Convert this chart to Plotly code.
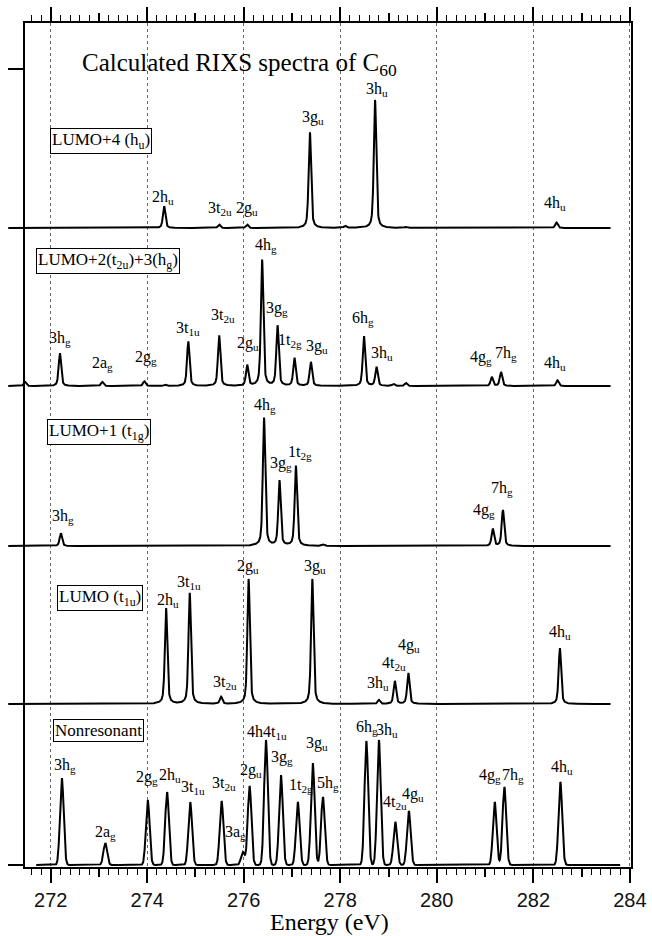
import numpy as np
import plotly.graph_objects as go

# ---------------- data (peak energies in eV, intensities in arbitrary units) ----------------
lumo4_E = [274.35, 275.49, 276.07, 277.37, 278.10, 278.72, 279.36, 282.48]
lumo4_I = [22, 3.5, 3.5, 96, 2, 128, 1, 5.5]

lumo23_E = [271.47, 272.19, 273.07, 273.94, 274.37, 274.85, 275.49, 276.07, 276.38, 276.70,
            277.05, 277.39, 278.49, 278.75, 279.10, 279.36, 281.14, 281.33, 282.50]
lumo23_I = [4, 33, 4, 4.7, 1.5, 44.7, 50.7, 20.7, 126, 60,
            28, 24, 50, 19, 2, 3, 9, 14, 5.7]

lumo1_E = [272.21, 275.60, 276.42, 276.74, 277.08, 277.64, 281.16, 281.37]
lumo1_I = [12.7, 0.6, 128, 65, 80, 1.5, 17, 36]

lumo_E = [274.39, 274.88, 275.53, 276.10, 277.42, 278.80, 279.13, 279.41, 282.55]
lumo_I = [96, 111, 7, 125, 125, 4, 23, 31, 56]

nonres_E = [272.23, 273.13, 274.01, 274.41, 274.89, 275.54, 275.98, 276.12, 276.46, 276.77,
            277.12, 277.43, 277.64, 278.54, 278.80, 279.14, 279.42, 281.20, 281.40, 282.56]
nonres_I = [87, 22, 65, 73, 63, 64, 13, 79, 125, 90,
            63, 102, 68, 124, 125, 43, 54, 63, 78, 83]

spectrum_names = ["LUMO+4 (h<sub>u</sub>)", "LUMO+2(t<sub>2u</sub>)+3(h<sub>g</sub>)",
                  "LUMO+1 (t<sub>1g</sub>)", "LUMO (t<sub>1u</sub>)", "Nonresonant"]
offsets = [637, 479, 319, 161, 0]

x_ticks = [272, 274, 276, 278, 280, 282, 284]

# peak labels: (text, energy, height-coordinate)
labels_lumo4 = [("2h<sub>u</sub>", 274.33, 668), ("3t<sub>2u</sub>", 275.51, 657),
                ("2g<sub>u</sub>", 276.07, 657), ("3g<sub>u</sub>", 277.44, 748),
                ("3h<sub>u</sub>", 278.76, 776), ("4h<sub>u</sub>", 282.45, 662)]
labels_lumo23 = [("3h<sub>g</sub>", 272.19, 527), ("2a<sub>g</sub>", 273.08, 502),
                 ("2g<sub>g</sub>", 273.97, 508), ("3t<sub>1u</sub>", 274.85, 537),
                 ("3t<sub>2u</sub>", 275.57, 550), ("2g<sub>u</sub>", 276.09, 522),
                 ("4h<sub>g</sub>", 276.46, 620), ("3g<sub>g</sub>", 276.69, 557),
                 ("1t<sub>2g</sub>", 276.96, 525), ("3g<sub>u</sub>", 277.52, 519),
                 ("6h<sub>g</sub>", 278.47, 547), ("3h<sub>u</sub>", 278.86, 512),
                 ("4g<sub>g</sub>", 280.92, 508), ("7h<sub>g</sub>", 281.43, 512),
                 ("4h<sub>u</sub>", 282.45, 502)]
labels_lumo1 = [("3h<sub>g</sub>", 272.26, 349), ("4h<sub>g</sub>", 276.44, 460),
                ("3g<sub>g</sub>", 276.77, 402), ("1t<sub>2g</sub>", 277.17, 413),
                ("4g<sub>g</sub>", 280.98, 355), ("7h<sub>g</sub>", 281.35, 377)]
labels_lumo = [("2h<sub>u</sub>", 274.43, 265), ("3t<sub>1u</sub>", 274.87, 283),
               ("3t<sub>2u</sub>", 275.61, 183), ("2g<sub>u</sub>", 276.09, 299),
               ("3g<sub>u</sub>", 277.48, 299), ("3h<sub>u</sub>", 278.78, 182),
               ("4t<sub>2u</sub>", 279.11, 202), ("4g<sub>u</sub>", 279.42, 220),
               ("4h<sub>u</sub>", 282.55, 233)]
labels_nonres = [("3h<sub>g</sub>", 272.30, 100), ("2a<sub>g</sub>", 273.13, 33),
                 ("2g<sub>g</sub>", 273.99, 88), ("2h<sub>u</sub>", 274.47, 90),
                 ("3t<sub>1u</sub>", 274.95, 78), ("3t<sub>2u</sub>", 275.59, 82),
                 ("3a<sub>g</sub>", 275.82, 33), ("2g<sub>u</sub>", 276.15, 95),
                 ("4h4t<sub>1u</sub>", 276.48, 133), ("3g<sub>g</sub>", 276.79, 108),
                 ("1t<sub>2g</sub>", 277.19, 80), ("3g<sub>u</sub>", 277.52, 122),
                 ("5h<sub>g</sub>", 277.75, 82), ("6h<sub>g</sub>", 278.55, 138),
                 ("3h<sub>u</sub>", 278.97, 135), ("4t<sub>2u</sub>", 279.14, 63),
                 ("4g<sub>u</sub>", 279.51, 71), ("4g<sub>g</sub>", 281.11, 90),
                 ("7h<sub>g</sub>", 281.58, 90), ("4h<sub>u</sub>", 282.59, 98)]

# ---------------- geometry ----------------
W, H = 652, 936
def px_x(p): return p / W
def px_y(p): return (H - p) / H

TOP_PX, BOT_PX = 23, 867
X_MAIN = [271.467, 284.024]
X_TRACE = [271.115, 284.024]
Y_RANGE = [-2, 842]

SERIF = "Liberation Serif, Times New Roman, serif"
SANS = "Liberation Sans, Arial, sans-serif"


def broaden(grid, E, I, fwhm, eta):
    y = np.zeros_like(grid)
    for c, h in zip(E, I):
        d = (grid - c) / (fwhm / 2)
        L = 1 / (1 + d ** 2)
        G = np.exp(-np.log(2) * d ** 2)
        y += h * (eta * L + (1 - eta) * G)
    return y


fig = go.Figure()
grid_res = np.arange(271.12, 283.60, 0.004)
grid_non = np.arange(271.70, 283.80, 0.004)

series = [(lumo4_E, lumo4_I), (lumo23_E, lumo23_I), (lumo1_E, lumo1_I), (lumo_E, lumo_I)]
trace_axes = ["x3", "x2", "x2", "x2"]
for (E, I), off, name, xa in zip(series, offsets[:4], spectrum_names[:4], trace_axes):
    fig.add_trace(go.Scatter(x=grid_res, y=off + broaden(grid_res, E, I, 0.06, 0.5),
                             mode="lines", line=dict(color="black", width=2),
                             xaxis=xa, yaxis="y2", name=name, showlegend=False,
                             hoverinfo="skip"))
# nonresonant spectrum lies inside the framed area, so it lives on the main axes
fig.add_trace(go.Scatter(x=grid_non, y=offsets[4] + broaden(grid_non, nonres_E, nonres_I, 0.09, 0.0),
                         mode="lines", line=dict(color="black", width=2),
                         xaxis="x", yaxis="y", name=spectrum_names[4], showlegend=False,
                         hoverinfo="skip", cliponaxis=False))

annotations = []
for lab_list in [labels_lumo4, labels_lumo23, labels_lumo1, labels_lumo, labels_nonres]:
    for txt, ex, yy in lab_list:
        annotations.append(dict(text=txt, x=ex, y=yy, xref="x2", yref="y2",
                                showarrow=False, xanchor="center", yanchor="middle",
                                font=dict(family=SERIF, size=16, color="black")))

box_pos = [(101, 141), (108, 261), (99, 432), (100, 598), (98, 730)]
for name, (bx, by) in zip(spectrum_names, box_pos):
    annotations.append(dict(text=name, x=px_x(bx), y=px_y(by), xref="paper", yref="paper",
                            showarrow=False, xanchor="center", yanchor="middle",
                            bordercolor="black", borderwidth=1, borderpad=1, bgcolor="white",
                            font=dict(family=SERIF, size=17, color="black")))

annotations.append(dict(text="Calculated RIXS spectra of C<sub>60</sub>", x=px_x(80), y=px_y(65),
                        xref="paper", yref="paper", showarrow=False, xanchor="left",
                        yanchor="middle", font=dict(family=SERIF, size=25, color="black")))
annotations.append(dict(text="Energy (eV)", x=px_x(329), y=px_y(922), xref="paper", yref="paper",
                        showarrow=False, xanchor="center", yanchor="middle",
                        font=dict(family=SERIF, size=24, color="black")))

minor_vals = [round(v, 1) for v in np.arange(271.6, 284.01, 0.2) if abs(v - round(v)) > 0.05]
odd_vals = [273, 275, 277, 279, 281, 283]

fig.update_layout(
    width=W, height=H, margin=dict(l=0, r=0, t=0, b=0),
    paper_bgcolor="white", plot_bgcolor="rgba(0,0,0,0)",
    showlegend=False,
    annotations=annotations,
    xaxis=dict(domain=[px_x(25), px_x(631)], range=X_MAIN, anchor="y",
               tickmode="array", tickvals=x_ticks, ticktext=[str(v) for v in x_ticks],
               ticks="outside", ticklen=14, tickwidth=1.5, tickcolor="black",
               showline=True, linecolor="black", linewidth=2, mirror="allticks",
               showgrid=True, gridcolor="#666", griddash="dot", gridwidth=1,
               zeroline=False, automargin=False,
               tickfont=dict(family=SANS, size=20, color="#111"),
               minor=dict(tickmode="array", tickvals=minor_vals, ticks="outside",
                          ticklen=6, tickwidth=1.3, tickcolor="black", showgrid=False)),
    yaxis=dict(domain=[px_y(BOT_PX), px_y(TOP_PX)], range=Y_RANGE, anchor="x",
               tickmode="array", tickvals=[0, 796], showticklabels=False,
               ticks="outside", ticklen=15, tickwidth=2, tickcolor="black",
               showline=True, linecolor="black", linewidth=2, mirror=True,
               showgrid=False, zeroline=False, automargin=False),
    xaxis2=dict(domain=[px_x(8), px_x(631)], range=X_TRACE, anchor="y2",
                tickmode="array", tickvals=odd_vals, showticklabels=False,
                ticks="outside", ticklen=9, tickwidth=1.5, tickcolor="black",
                mirror="ticks", showline=False, showgrid=False, zeroline=False,
                automargin=False),
    xaxis3=dict(overlaying="x2", range=X_TRACE, anchor="y2", side="top",
                tickmode="array", tickvals=minor_vals, showticklabels=False,
                ticks="outside", ticklen=6, tickwidth=1.3, tickcolor="black",
                showline=False, showgrid=False, zeroline=False, automargin=False),
    yaxis2=dict(domain=[px_y(BOT_PX), px_y(TOP_PX)], range=Y_RANGE, anchor="x2",
                visible=False, showgrid=False, zeroline=False),
)

fig.write_html("out.html")
